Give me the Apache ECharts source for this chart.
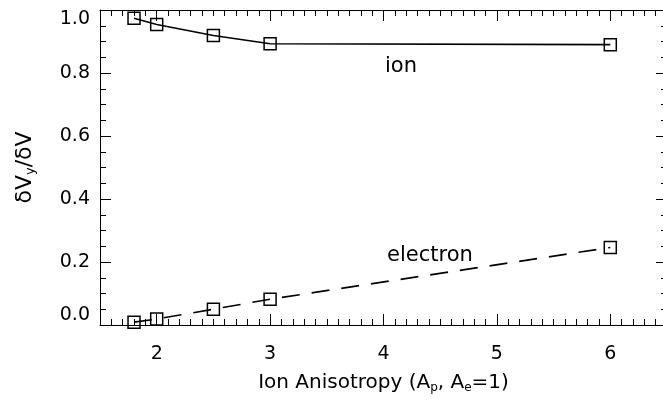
<!DOCTYPE html>
<html lang="en">
  <head>
    <meta charset="UTF-8" />
    <title>Ion anisotropy</title>
    <script src="https://cdn.jsdelivr.net/npm/echarts@6/dist/echarts.min.js"></script>
    <style>
      html, body { margin: 0; padding: 0; background: #fff; }
    </style>
  </head>
  <body>
    <div id="main" style="width: 663px; height: 403px"></div>

    <script>
      // 数据
      const anisotropy = [1.8, 2.0, 2.5, 3.0, 6.0]
      const ionRatio = [0.974, 0.954, 0.919, 0.893, 0.890]
      const electronRatio = [0.009, 0.019, 0.050, 0.082, 0.246]
      const xTicks = [2, 3, 4, 5, 6]
      const yTicks = [0.0, 0.2, 0.4, 0.6, 0.8, 1.0]

      const font = 'DejaVu Sans'
      const ink = '#000'

      const pairs = (xs, ys) => xs.map((x, i) => [x, ys[i]])

      // 主刻度轴 (customValues) / 次刻度轴 (每 0.1)
      function xAxisOf(position, minor, withLabels) {
        const axis = {
          type: 'value',
          position: position,
          min: 1.5,
          max: 6.5,
          axisLine: { show: !minor, lineStyle: { color: ink, width: 1 } },
          axisTick: { show: true, inside: true, length: minor ? 6 : 11, lineStyle: { color: ink, width: 1 } },
          axisLabel: { show: false },
          splitLine: { show: false },
        }
        if (minor) {
          axis.interval = 0.1
        } else {
          axis.interval = 0.5
          axis.axisTick.customValues = xTicks
          axis.axisLabel = {
            show: withLabels,
            customValues: xTicks,
            color: ink,
            fontFamily: font,
            fontSize: 19,
            margin: 20,
            formatter: v => String(Math.round(v)),
          }
        }
        if (withLabels) {
          axis.name = 'Ion Anisotropy (A{s|p}, A{s|e}=1)'
          axis.nameLocation = 'middle'
          axis.nameGap = 47
          axis.nameTextStyle = {
            color: ink,
            fontFamily: font,
            fontSize: 20,
            rich: { s: { fontSize: 12, fontFamily: font, color: ink, padding: [10, 0, 0, 0] } },
          }
        }
        return axis
      }

      function yAxisOf(position, withLabels) {
        return {
          type: 'value',
          position: position,
          min: 0,
          max: 1,
          interval: 0.2,
          axisLine: { show: true, lineStyle: { color: ink, width: 1 } },
          axisTick: { show: true, inside: true, length: 11, lineStyle: { color: ink, width: 1 } },
          minorTick: { show: true, splitNumber: 4, length: 6, lineStyle: { color: ink, width: 1 } },
          axisLabel: {
            show: withLabels,
            customValues: yTicks,
            color: ink,
            fontFamily: font,
            fontSize: 19,
            margin: 10,
            verticalAlignMaxLabel: 'top',
            verticalAlignMinLabel: 'bottom',
            formatter: v => Number(v).toFixed(1),
          },
          splitLine: { show: false },
          name: withLabels ? 'δV{s|y}/δV' : '',
          nameLocation: 'middle',
          nameGap: 63,
          nameRotate: 90,
          nameTextStyle: {
            color: ink,
            fontFamily: font,
            fontSize: 22,
            rich: { s: { fontSize: 13, fontFamily: font, color: ink, padding: [11, 0, 0, 0] } },
          },
        }
      }

      const chart = echarts.init(document.getElementById('main'), null, { renderer: 'canvas' })

      const markerStyle = {
        color: 'rgba(0,0,0,0)',
        borderColor: ink,
        borderWidth: 1.5,
      }

      chart.setOption({
        animation: false,
        backgroundColor: '#fff',
        grid: { left: 100, top: 10, width: 567, height: 315, outerBoundsMode: 'none', containLabel: false },
        xAxis: [
          xAxisOf('bottom', false, true),
          xAxisOf('bottom', true, false),
          xAxisOf('top', false, false),
          xAxisOf('top', true, false),
        ],
        yAxis: [yAxisOf('left', true), yAxisOf('right', false)],
        series: [
          {
            name: 'ion',
            type: 'line',
            data: pairs(anisotropy, ionRatio),
            symbol: 'rect',
            symbolSize: 12,
            itemStyle: markerStyle,
            lineStyle: { color: ink, width: 1.6 },
          },
          {
            name: 'electron',
            type: 'line',
            data: pairs(anisotropy, electronRatio),
            symbol: 'rect',
            symbolSize: 12,
            itemStyle: markerStyle,
            lineStyle: { color: ink, width: 1.6, type: [18, 12] },
          },
        ],
        graphic: [
          {
            type: 'text',
            x: 401,
            y: 67,
            style: { text: 'ion', fill: ink, font: '21px "DejaVu Sans"', align: 'center', verticalAlign: 'middle' },
          },
          {
            type: 'text',
            x: 430,
            y: 256,
            style: { text: 'electron', fill: ink, font: '21px "DejaVu Sans"', align: 'center', verticalAlign: 'middle' },
          },
        ],
      })
    </script>
  </body>
</html>
